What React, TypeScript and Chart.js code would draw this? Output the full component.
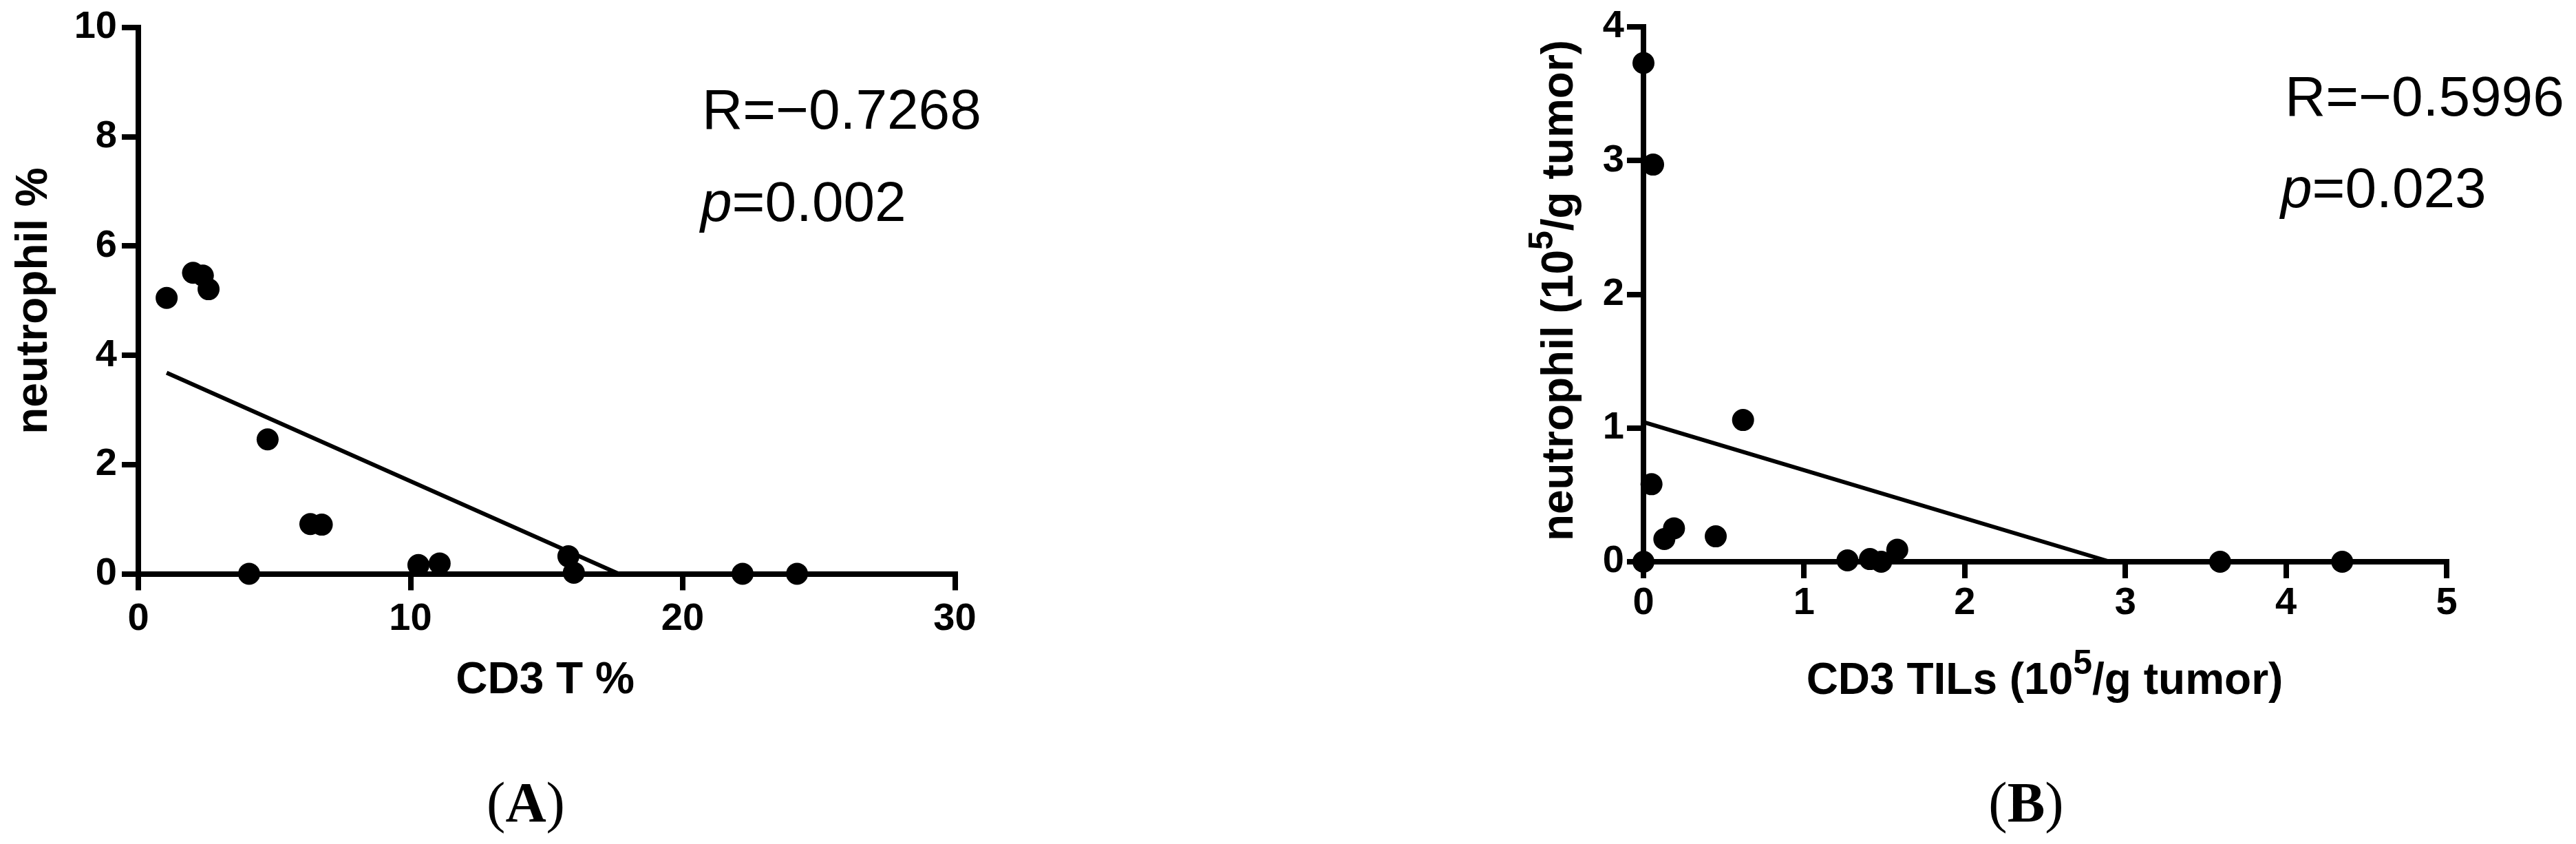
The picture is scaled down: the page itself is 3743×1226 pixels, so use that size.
import React, { useEffect, useRef } from "react";
import { Chart, registerables } from "chart.js";

Chart.register(...registerables);

const SANS = '"Liberation Sans", Arial, sans-serif';
const SERIF = '"Liberation Serif", "Times New Roman", serif';

// ---------- Panel A data ----------
const cd3PercentA = [1.04, 2.01, 2.37, 2.58, 4.07, 4.75, 6.32, 6.74, 10.29, 11.07, 15.8, 16.0, 22.2, 24.2];
const neutPercentA = [5.05, 5.51, 5.46, 5.21, 0, 2.46, 0.91, 0.9, 0.16, 0.19, 0.32, 0.02, 0, 0];
const fitXA = [1.04, 17.65];
const fitYA = [3.68, 0];
const xTicksA = [0, 10, 20, 30];
const yTicksA = [0, 2, 4, 6, 8, 10];

// ---------- Panel B data ----------
const cd3TilsB = [0, 0.06, 0.62, 0.05, 0.13, 0.19, 0.45, 0, 1.27, 1.41, 1.48, 1.58, 3.59, 4.35];
const neutCountB = [3.73, 2.97, 1.06, 0.58, 0.17, 0.25, 0.19, 0, 0.01, 0.02, 0, 0.09, 0, 0];
const fitXB = [0, 2.905];
const fitYB = [1.045, 0];
const xTicksB = [0, 1, 2, 3, 4, 5];
const yTicksB = [0, 1, 2, 3, 4];

type Seg = { t: string; size: number; weight?: string; style?: string; family?: string; dy?: number };

function fontOf(s: Seg) {
  return `${s.style || "normal"} ${s.weight || "normal"} ${s.size}px ${s.family || SANS}`;
}

function drawSegs(ctx: CanvasRenderingContext2D, segs: Seg[], x: number, y: number, align: "left" | "center", rot = 0) {
  ctx.save();
  ctx.translate(x, y);
  if (rot) ctx.rotate(rot);
  ctx.textBaseline = "alphabetic";
  ctx.textAlign = "left";
  ctx.fillStyle = "#000";
  let total = 0;
  const widths = segs.map((s) => {
    ctx.font = fontOf(s);
    const w = ctx.measureText(s.t).width;
    total += w;
    return w;
  });
  let cx = align === "center" ? -total / 2 : 0;
  segs.forEach((s, i) => {
    ctx.font = fontOf(s);
    ctx.fillText(s.t, cx, -(s.dy || 0));
    cx += widths[i];
  });
  ctx.restore();
}

type TextItem = { segs: Seg[]; x: number; y: number; align: "left" | "center"; rot?: number };

type PanelCfg = {
  left: number;
  width: number;
  height: number;
  xs: number[];
  ys: number[];
  fitX: number[];
  fitY: number[];
  xTicks: number[];
  yTicks: number[];
  area: { left: number; top: number; right: number; bottom: number };
  padX: number;
  padY: number;
  texts: TextItem[];
};

const TITLE = 64;
const SUP = 50;
const ANN = 82;
const LAB = 82;

const panelA: PanelCfg = {
  left: 0,
  width: 1870,
  height: 1226,
  xs: cd3PercentA,
  ys: neutPercentA,
  fitX: fitXA,
  fitY: fitYA,
  xTicks: xTicksA,
  yTicks: yTicksA,
  area: { left: 201, top: 40, right: 1387.5, bottom: 833.5 },
  padX: 14,
  padY: 7,
  texts: [
    { segs: [{ t: "CD3 T %", size: TITLE, weight: "bold" }], x: 792, y: 1007, align: "center" },
    { segs: [{ t: "neutrophil %", size: TITLE, weight: "bold" }], x: 68, y: 437, align: "center", rot: -Math.PI / 2 },
    { segs: [{ t: "R=\u22120.7268", size: ANN }], x: 1020, y: 187, align: "left" },
    { segs: [{ t: "p", size: ANN, style: "italic" }, { t: "=0.002", size: ANN }], x: 1018, y: 321, align: "left" },
    {
      segs: [
        { t: "(", size: LAB, family: SERIF },
        { t: "A", size: LAB, family: SERIF, weight: "bold" },
        { t: ")", size: LAB, family: SERIF },
      ],
      x: 764,
      y: 1193,
      align: "center",
    },
  ],
};

const panelB: PanelCfg = {
  left: 1870,
  width: 1873,
  height: 1226,
  xs: cd3TilsB,
  ys: neutCountB,
  fitX: fitXB,
  fitY: fitYB,
  xTicks: xTicksB,
  yTicks: yTicksB,
  area: { left: 518, top: 39, right: 1685, bottom: 816 },
  padX: 9,
  padY: 4,
  texts: [
    {
      segs: [
        { t: "CD3 TILs (10", size: TITLE, weight: "bold" },
        { t: "5", size: SUP, weight: "bold", dy: 29 },
        { t: "/g tumor)", size: TITLE, weight: "bold" },
      ],
      x: 1101,
      y: 1008,
      align: "center",
    },
    {
      segs: [
        { t: "neutrophil (10", size: TITLE, weight: "bold" },
        { t: "5", size: SUP, weight: "bold", dy: 29 },
        { t: "/g tumor)", size: TITLE, weight: "bold" },
      ],
      x: 415,
      y: 422,
      align: "center",
      rot: -Math.PI / 2,
    },
    { segs: [{ t: "R=\u22120.5996", size: ANN }], x: 1450, y: 168, align: "left" },
    { segs: [{ t: "p", size: ANN, style: "italic" }, { t: "=0.023", size: ANN }], x: 1444, y: 301, align: "left" },
    {
      segs: [
        { t: "(", size: LAB, family: SERIF },
        { t: "B", size: LAB, family: SERIF, weight: "bold" },
        { t: ")", size: LAB, family: SERIF },
      ],
      x: 1074,
      y: 1193,
      align: "center",
    },
  ],
};

function Panel({ cfg }: { cfg: PanelCfg }) {
  const ref = useRef<HTMLCanvasElement | null>(null);
  useEffect(() => {
    const canvas = ref.current;
    if (!canvas) return;
    const { area, width, height } = cfg;
    const textPlugin = {
      id: "annot",
      afterDraw(chart: any) {
        const ctx = chart.ctx as CanvasRenderingContext2D;
        cfg.texts.forEach((t) => drawSegs(ctx, t.segs, t.x, t.y, t.align, t.rot || 0));
      },
    };
    const axisCommon = (ticksArr: number[], pad: number) => ({
      type: "linear" as const,
      min: ticksArr[0],
      max: ticksArr[ticksArr.length - 1],
      afterBuildTicks: (scale: any) => {
        scale.ticks = ticksArr.map((v) => ({ value: v }));
      },
      grid: {
        display: true,
        drawOnChartArea: false,
        drawTicks: true,
        tickLength: 24,
        lineWidth: 8,
        color: "#000",
      },
      border: { display: true, width: 8, color: "#000" },
      ticks: {
        color: "#000",
        padding: pad,
        autoSkip: false,
        maxRotation: 0,
        minRotation: 0,
        font: { family: SANS, size: 56, weight: "bold" as const, lineHeight: 1 },
      },
      title: { display: false },
    });
    const chart = new Chart(canvas, {
      type: "scatter",
      data: {
        datasets: [
          {
            data: cfg.xs.map((x, i) => ({ x, y: cfg.ys[i] })),
            pointRadius: 16,
            pointHoverRadius: 16,
            pointBackgroundColor: "#000",
            pointBorderWidth: 0,
            showLine: false,
            clip: false as any,
          },
          {
            data: cfg.fitX.map((x, i) => ({ x, y: cfg.fitY[i] })),
            showLine: true,
            pointRadius: 0,
            borderColor: "#000",
            borderWidth: 6,
            fill: false,
            clip: false as any,
          },
        ],
      },
      options: {
        animation: false,
        responsive: false,
        events: [],
        layout: {
          padding: { left: 0, top: area.top, right: width - area.right, bottom: 0 },
        },
        plugins: { legend: { display: false }, tooltip: { enabled: false }, title: { display: false } },
        scales: {
          x: {
            ...axisCommon(cfg.xTicks, cfg.padX),
            position: "bottom",
            afterFit: (s: any) => {
              s.height = height - area.bottom;
            },
          },
          y: {
            ...axisCommon(cfg.yTicks, cfg.padY),
            position: "left",
            afterFit: (s: any) => {
              s.width = area.left;
            },
          },
        } as any,
      },
      plugins: [textPlugin],
    });
    return () => chart.destroy();
  }, [cfg]);
  return (
    <canvas
      ref={ref}
      width={cfg.width}
      height={cfg.height}
      style={{ position: "absolute", left: cfg.left, top: 0, width: cfg.width, height: cfg.height }}
    />
  );
}

export default function App() {
  return (
    <div
      style={{
        position: "fixed",
        left: 0,
        top: 0,
        width: 3743,
        height: 1226,
        background: "#fff",
        overflow: "hidden",
      }}
    >
      <Panel cfg={panelA} />
      <Panel cfg={panelB} />
    </div>
  );
}
